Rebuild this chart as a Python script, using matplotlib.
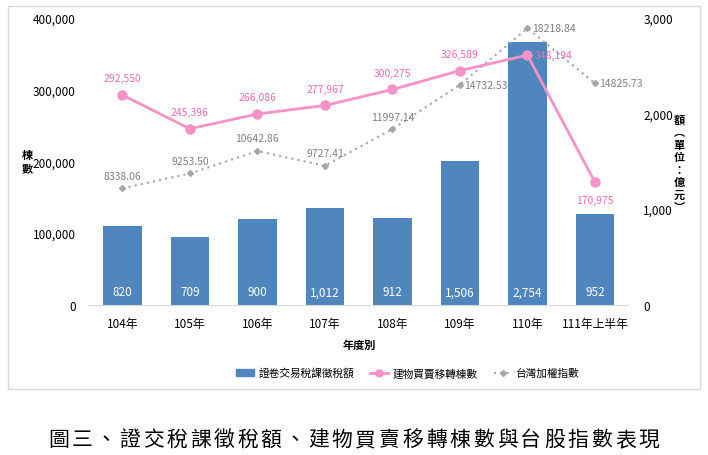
import matplotlib.pyplot as plt
from matplotlib.patches import Rectangle
from matplotlib.lines import Line2D
from matplotlib.patches import Patch

plt.rcParams['font.family'] = ['Noto Sans CJK TC', 'DejaVu Sans']

years = ['104年', '105年', '106年', '107年', '108年', '109年', '110年', '111年上半年']
tax = [820, 709, 900, 1012, 912, 1506, 2754, 952]              # 億元
tax_labels = ['820', '709', '900', '1,012', '912', '1,506', '2,754', '952']
transfers = [292550, 245396, 266086, 277967, 300275, 326589, 348194, 170975]
taiex = [8338.06, 9253.50, 10642.86, 9727.41, 11997.14, 14732.53, 18218.84, 14825.73]
caption = '圖三、證交稅課徵稅額、建物買賣移轉棟數與台股指數表現'

blue = '#4F86BD'
pink = '#F592C8'
pink_txt = '#F06CB6'
gray = '#A6A6A6'
gray_txt = '#808080'

fig = plt.figure(figsize=(7.08, 4.56), dpi=100)
fig.patches.append(Rectangle((8 / 708, 1 - 390 / 456), 692 / 708, 383 / 456,
                             transform=fig.transFigure, fill=False,
                             edgecolor='#D9D9D9', linewidth=1))

x = list(range(len(years)))
ax_bar = fig.add_axes([88 / 708, 1 - 305.7 / 456, 540 / 708, 286.7 / 456])
ax_idx = ax_bar.twinx()
ax_line = ax_bar.twinx()

# bars (right axis, 億元)
ax_bar.bar(x, tax, width=0.57, color=blue, zorder=2)
ax_bar.set_ylim(0, 3000)
ax_bar.set_yticks([0, 1000, 2000, 3000])
ax_bar.set_yticklabels(['0', '1,000', '2,000', '3,000'])
ax_bar.yaxis.tick_right()
ax_bar.set_xlim(-0.51, 7.49)
ax_bar.set_xticks(x)
ax_bar.set_xticklabels(years)
for xi, lab in zip(x, tax_labels):
    ax_bar.text(xi, 135, lab, color='white', ha='center', va='center', fontsize=8.5)

# taiex (hidden axis)
ax_idx.plot(x, taiex, color=gray, linestyle=(0, (1, 2)), linewidth=1.5,
            marker='D', markersize=3, zorder=3)
ax_idx.set_ylim(1150, 18856)
ax_idx.axis('off')
for i, (xi, v) in enumerate(zip(x, taiex)):
    if i >= 5:
        ax_idx.annotate(f'{v:.2f}', (xi, v), xytext=(3, 0), textcoords='offset points',
                        ha='left', va='center', color=gray_txt, fontsize=7.5)
    else:
        ax_idx.annotate(f'{v:.2f}', (xi, v), xytext=(0, 9), textcoords='offset points',
                        ha='center', va='center', color=gray_txt, fontsize=7.5)

# transfers (left axis)
ax_line.plot(x, transfers, color=pink, linewidth=2, marker='o', markersize=6.5, zorder=4)
ax_line.set_ylim(0, 400000)
ax_line.set_yticks([0, 100000, 200000, 300000, 400000])
ax_line.set_yticklabels(['0', '100,000', '200,000', '300,000', '400,000'])
ax_line.yaxis.tick_left()
for i, (xi, v) in enumerate(zip(x, transfers)):
    if i == 6:
        off, ha = (5, 0), 'left'
    elif i == 7:
        off, ha = (0, -13), 'center'
    else:
        off, ha = (0, 12), 'center'
    ax_line.annotate(f'{v:,}', (xi, v), xytext=off, textcoords='offset points',
                     ha=ha, va='center', color=pink_txt, fontsize=7.5)

for a in (ax_bar, ax_line):
    for s in a.spines.values():
        s.set_visible(False)
    a.tick_params(length=0, labelsize=8.5, colors='black')
    for t in a.get_xticklabels() + a.get_yticklabels():
        t.set_fontweight('medium')
ax_bar.spines['bottom'].set_visible(True)
ax_bar.spines['bottom'].set_color('#D9D9D9')
ax_bar.tick_params(axis='x', pad=9)
ax_bar.tick_params(axis='y', pad=11)
ax_line.tick_params(axis='y', pad=9)

# axis titles
fig.text(27 / 708, 1 - 162 / 456, '棟\n數', ha='center', va='center',
         fontsize=8, linespacing=1.0, fontweight='bold')
fig.text(679 / 708, 1 - 164 / 456, '額\n︵\n單\n位\n：\n億\n元\n︶', ha='center', va='center',
         fontsize=8, linespacing=0.95, fontweight='bold')
fig.text(359 / 708, 1 - 345 / 456, '年度別', ha='center', va='center',
         fontsize=8, fontweight='bold')

handles = [Patch(color=blue),
           Line2D([], [], color=pink, linewidth=2, marker='o', markersize=5),
           Line2D([], [], color=gray, linestyle=(0, (1, 2)), linewidth=1.5, marker='D', markersize=3)]
fig.legend(handles, ['證卷交易稅課徵稅額', '建物買賣移轉棟數', '台灣加權指數'],
           loc='center', bbox_to_anchor=(408 / 708, 1 - 374 / 456), ncol=3,
           frameon=False, handlelength=1.7, columnspacing=1.5,
           handletextpad=0.4, prop={'weight': 'medium', 'size': 7.7})

# caption, spaced out like the original
step = 23.6
start = 58.8
for i, ch in enumerate(caption):
    fig.text((start + i * step) / 708, 1 - 440 / 456, ch,
             ha='center', va='center', fontsize=15, fontweight='light')

fig.savefig('out.png', dpi=100)
